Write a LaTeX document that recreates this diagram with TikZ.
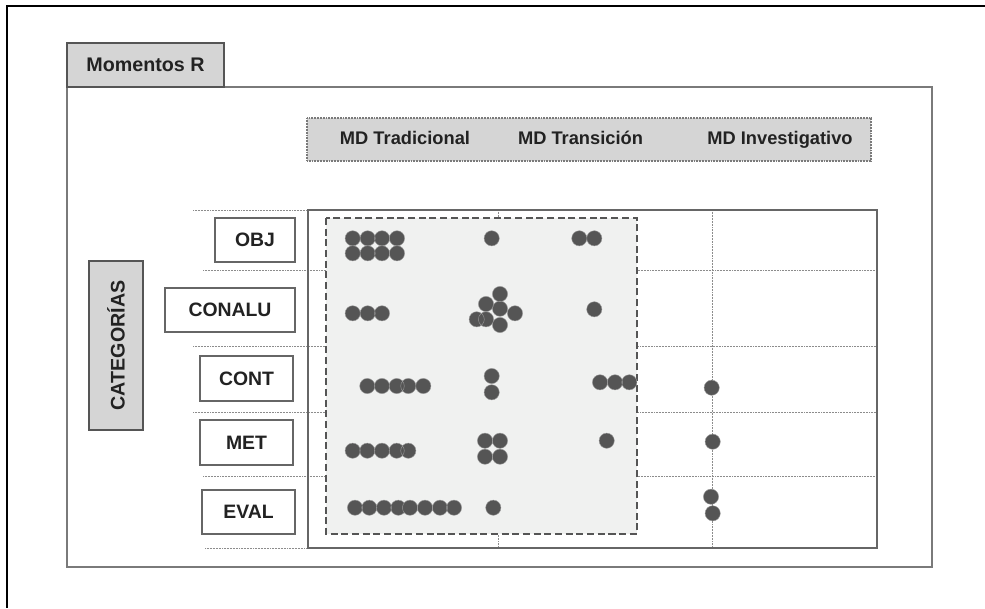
\documentclass[tikz,border=0pt]{standalone}
\usepackage{fontspec}
\setmainfont{Liberation Sans}

\definecolor{tinta}{HTML}{222222}
\definecolor{borde}{HTML}{666666}
\definecolor{marcogris}{HTML}{7A7A7A}
\definecolor{grisclaro}{HTML}{D5D5D5}
\definecolor{fondo}{HTML}{F0F1F0}
\definecolor{oscuro}{HTML}{555555}

\begin{document}
\begin{tikzpicture}[
        x=0.025cm, y=-0.025cm,
        pestana/.style={draw=oscuro, fill=grisclaro, line width=1.2pt, inner sep=0pt, outer sep=0pt, text=tinta, font=\fontsize{14}{16}\selectfont\bfseries},
        etiqueta/.style={draw=borde, fill=white, line width=1.1pt, inner sep=0pt, outer sep=0pt, text=tinta, font=\fontsize{13.8}{16}\selectfont\bfseries},
        columna/.style={inner sep=0pt, anchor=base, text=tinta, font=\fontsize{13}{15}\selectfont\bfseries},
        marco/.style={draw=marcogris, line width=1.5pt},
        banda/.style={draw=marcogris, fill=grisclaro, line width=0.8pt, dash pattern=on 0.6pt off 0.5pt},
        reja/.style={draw=gray!90, line width=0.7pt, dash pattern=on 0.6pt off 0.5pt},
        zona/.style={draw=oscuro, fill=fondo, line width=1.3pt, dash pattern=on 5pt off 2.6pt},
        punto/.style={fill=oscuro, draw=gray!80, line width=0.3pt}
    ]
        \useasboundingbox (0,0) rectangle (985,608);

        % Borde de la imagen
        \draw[black, line width=0.9pt] (985,6) -- (7,6) -- (7,608);

        % Marco principal y pestana
        \draw[marco] (67,87) rectangle (932,567);
        \node[pestana, minimum width=3.925cm, minimum height=1.1cm] (momentos) at (145.5,65) {Momentos R};

        % Cabecera de columnas
        \draw[banda] (307,118) rectangle (871,161);
        \node[columna] (tradicional) at (405,144) {MD Tradicional};
        \node[columna] (transicion) at (580.5,144) {MD Transición};
        \node[columna] (investigativo) at (780,144) {MD Investigativo};

        % Lineas punteadas de la reja
        \draw[reja] (193,210) -- (308,210);
        \draw[reja] (203,270) -- (877,270);
        \draw[reja] (193,346) -- (877,346);
        \draw[reja] (193,412) -- (877,412);
        \draw[reja] (203,476) -- (877,476);
        \draw[reja] (205,548) -- (308,548);
        \draw[reja] (498,210) -- (498,548);
        \draw[reja] (712,210) -- (712,548);

        % Tabla
        \draw[marco, draw=borde, line width=1.3pt] (308,210) rectangle (877,548);

        % Zona de transicion (discontinua)
        \draw[zona] (326,218) rectangle (637,534);

        % Categorias
        \node[pestana, rotate=90, minimum width=4.225cm, minimum height=1.35cm] (categorias) at (116,345.5) {CATEGORÍAS};
        \node[etiqueta, minimum width=2cm, minimum height=1.1cm] (obj) at (255,240) {OBJ};
        \node[etiqueta, minimum width=3.25cm, minimum height=1.1cm] (conalu) at (230,310) {CONALU};
        \node[etiqueta, minimum width=2.325cm, minimum height=1.125cm] (cont) at (246.5,378.5) {CONT};
        \node[etiqueta, minimum width=2.325cm, minimum height=1.125cm] (met) at (246.5,442.5) {MET};
        \node[etiqueta, minimum width=2.325cm, minimum height=1.1cm] (eval) at (248.5,512) {EVAL};

        % Puntos: OBJ
        \filldraw[punto] (352.7,238.3) circle (0.19cm) (367.7,238.3) circle (0.19cm) (382,238.3) circle (0.19cm) (397,238.3) circle (0.19cm);
        \filldraw[punto] (352.7,253.3) circle (0.19cm) (367.7,253.3) circle (0.19cm) (382,253.3) circle (0.19cm) (397,253.3) circle (0.19cm);
        \filldraw[punto] (491.7,238.3) circle (0.19cm);
        \filldraw[punto] (579.3,238.3) circle (0.19cm) (594.3,238.3) circle (0.19cm);

        % Puntos: CONALU
        \filldraw[punto] (352.7,313.3) circle (0.19cm) (367.7,313.3) circle (0.19cm) (382,313.3) circle (0.19cm);
        \filldraw[punto] (500,294) circle (0.19cm) (486,304) circle (0.19cm) (500,308.7) circle (0.19cm) (515,313.3) circle (0.19cm);
        \filldraw[punto] (476.7,319.3) circle (0.19cm) (486,319.3) circle (0.19cm) (500,325) circle (0.19cm);
        \filldraw[punto] (594.3,309.3) circle (0.19cm);

        % Puntos: CONT
        \filldraw[punto] (367.3,386) circle (0.19cm) (382,386) circle (0.19cm) (396.7,386) circle (0.19cm) (408.3,386) circle (0.19cm) (423.3,386) circle (0.19cm);
        \filldraw[punto] (491.7,376) circle (0.19cm) (491.7,392.3) circle (0.19cm);
        \filldraw[punto] (600,382.3) circle (0.19cm) (615,382.3) circle (0.19cm) (629.3,382.3) circle (0.19cm);
        \filldraw[punto] (711.7,387.7) circle (0.19cm);

        % Puntos: MET
        \filldraw[punto] (352.7,450.7) circle (0.19cm) (367.3,450.7) circle (0.19cm) (382,450.7) circle (0.19cm) (396.7,450.7) circle (0.19cm) (408.3,450.7) circle (0.19cm);
        \filldraw[punto] (485,440.7) circle (0.19cm) (500,440.7) circle (0.19cm) (485,456.7) circle (0.19cm) (500,456.7) circle (0.19cm);
        \filldraw[punto] (606.7,440.7) circle (0.19cm);
        \filldraw[punto] (712.7,441.7) circle (0.19cm);

        % Puntos: EVAL
        \filldraw[punto] (355,507.7) circle (0.19cm) (369.3,507.7) circle (0.19cm) (384,507.7) circle (0.19cm) (398.3,507.7) circle (0.19cm);
        \filldraw[punto] (410,507.7) circle (0.19cm) (425,507.7) circle (0.19cm) (440,507.7) circle (0.19cm) (454,507.7) circle (0.19cm);
        \filldraw[punto] (493.3,507.7) circle (0.19cm);
        \filldraw[punto] (711,496.7) circle (0.19cm) (712.7,513.3) circle (0.19cm);
    \end{tikzpicture}
\end{document}
